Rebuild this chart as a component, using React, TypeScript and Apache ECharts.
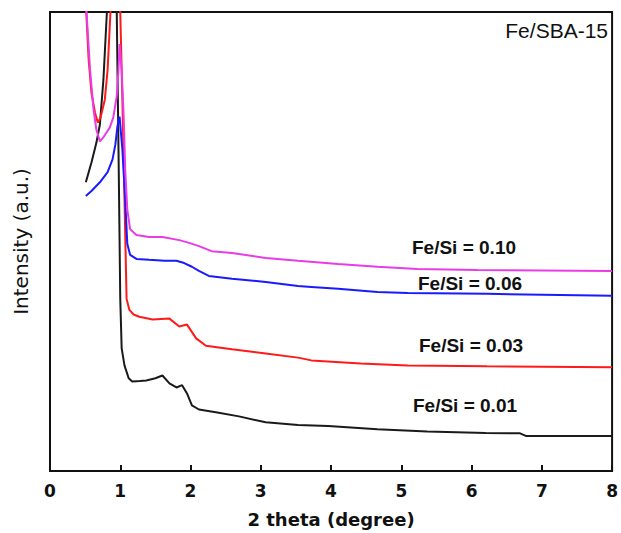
import React, { useEffect, useRef } from "react";
import * as echarts from "echarts";

// x ticks (2 theta, degree)
const xTicks = [0, 1, 2, 3, 4, 5, 6, 7, 8];

// series: [2theta, intensity (a.u., arbitrary 0-100 display scale)]
const fe001: number[][] = [
  [0.51, 62.9], [0.59, 67.2], [0.66, 71.5], [0.71, 75.5], [0.76, 85.2], [0.81, 100], [0.86, 115],
  [0.92, 120], [0.95, 100], [0.975, 70], [1.0, 37.5], [1.02, 26.7], [1.06, 23.0], [1.12, 20.2],
  [1.17, 19.5], [1.28, 19.6], [1.37, 19.7], [1.5, 20.2], [1.6, 20.8], [1.7, 19.1], [1.8, 18.2],
  [1.88, 18.7], [1.95, 16.9], [2.02, 14.3], [2.12, 13.4], [2.36, 12.8], [2.69, 11.9], [3.07, 10.6],
  [3.53, 10.0], [3.96, 9.8], [4.66, 9.1], [5.37, 8.6], [6.2, 8.3], [6.69, 8.2], [6.78, 7.6], [8.0, 7.6],
];

const fe003: number[][] = [
  [0.5, 105], [0.55, 89.6], [0.59, 82.4], [0.64, 78.1], [0.68, 75.9], [0.72, 77], [0.78, 80.9],
  [0.82, 87.4], [0.86, 99.8], [0.93, 120], [1.0, 100], [1.03, 80.9], [1.06, 59.2], [1.09, 37.5],
  [1.13, 35.1], [1.19, 34.1], [1.27, 33.6], [1.46, 33.0], [1.7, 33.2], [1.84, 31.5], [1.95, 31.9],
  [2.08, 28.9], [2.22, 27.3], [2.59, 26.5], [3.07, 25.6], [3.53, 24.7], [3.72, 24.1], [4.42, 23.4],
  [5.09, 23.0], [6.22, 22.8], [8.0, 22.6],
];

const fe006: number[][] = [
  [0.51, 59.9], [0.59, 61], [0.71, 62.9], [0.82, 65.1], [0.89, 67.9], [0.93, 71.1], [0.96, 75.1],
  [0.99, 77.2], [1.03, 70.1], [1.07, 59.2], [1.1, 49.5], [1.14, 47.1], [1.23, 46.2], [1.41, 46.0],
  [1.63, 45.8], [1.8, 45.8], [1.91, 45.3], [2.02, 44.5], [2.12, 43.6], [2.26, 42.5], [2.59, 41.9],
  [3.07, 41.2], [3.53, 40.3], [3.72, 40.1], [4.1, 39.7], [4.66, 39.0], [5.09, 38.8], [6.22, 38.6],
  [8.0, 38.2],
];

const fe010: number[][] = [
  [0.5, 105], [0.57, 87.4], [0.62, 78.7], [0.66, 74.4], [0.71, 71.8], [0.76, 72.7], [0.85, 74.8],
  [0.9, 77], [0.95, 81.6], [0.975, 87.4], [0.99, 93], [1.02, 87.4], [1.05, 76.6], [1.07, 65.7],
  [1.1, 57.0], [1.14, 52.7], [1.23, 51.4], [1.41, 51.0], [1.6, 51.0], [1.84, 50.3], [1.98, 49.7],
  [2.12, 49.0], [2.3, 47.9], [2.59, 47.5], [3.07, 46.4], [3.53, 45.8], [4.1, 45.1], [4.66, 44.5],
  [5.23, 44.0], [6.08, 43.8], [8.0, 43.6],
];

const seriesNames = ["Fe/Si = 0.01", "Fe/Si = 0.03", "Fe/Si = 0.06", "Fe/Si = 0.10"];
const seriesColors = ["#1a1a1a", "#ff1a1a", "#1a1aff", "#e83ce8"];
const seriesData = [fe001, fe003, fe006, fe010];

const App: React.FC = () => {
  const ref = useRef<HTMLDivElement>(null);

  useEffect(() => {
    if (!ref.current) return;
    const chart = echarts.init(ref.current, undefined, { renderer: "svg" });
    const labelFont = {
      fontFamily: "Liberation Sans, Arial, sans-serif",
      fontWeight: "bold" as const,
      fontSize: 19,
      fill: "#111",
    };
    chart.setOption({
      animation: false,
      backgroundColor: "#fff",
      grid: {
        left: 50,
        right: 5,
        top: 12,
        bottom: 60,
        show: true,
        borderColor: "#111",
        borderWidth: 2,
      },
      xAxis: {
        type: "value",
        min: xTicks[0],
        max: xTicks[xTicks.length - 1],
        interval: 1,
        name: "2 theta (degree)",
        nameLocation: "middle",
        nameGap: 39,
        nameTextStyle: {
          fontFamily: "DejaVu Sans, sans-serif",
          fontWeight: "bold",
          fontSize: 18,
          color: "#111",
        },
        axisLine: { show: true, lineStyle: { color: "#111", width: 2 } },
        axisTick: { show: true, inside: true, length: 6, lineStyle: { color: "#111", width: 2 } },
        axisLabel: {
          margin: 11,
          fontFamily: "DejaVu Sans, sans-serif",
          fontWeight: "bold",
          fontSize: 17,
          color: "#111",
        },
        splitLine: { show: false },
      },
      yAxis: {
        type: "value",
        min: 0,
        max: 100,
        name: "Intensity (a.u.)",
        nameLocation: "middle",
        nameGap: 19,
        nameTextStyle: {
          fontFamily: "DejaVu Sans, sans-serif",
          fontSize: 20,
          color: "#111",
        },
        axisLine: { show: true, lineStyle: { color: "#111", width: 2 } },
        axisTick: { show: false },
        axisLabel: { show: false },
        splitLine: { show: false },
      },
      series: seriesData.map((d, i) => ({
        name: seriesNames[i],
        type: "line",
        data: d,
        showSymbol: false,
        symbol: "none",
        clip: true,
        lineStyle: { color: seriesColors[i], width: 2 },
        z: 2 + i,
      })),
      graphic: [
        {
          type: "text",
          right: 13,
          top: 20,
          style: {
            text: "Fe/SBA-15",
            fontFamily: "Liberation Sans, Arial, sans-serif",
            fontSize: 21,
            fill: "#111",
          },
        },
        { type: "text", x: 412, y: 247, style: { ...labelFont, text: seriesNames[3], verticalAlign: "middle" } },
        { type: "text", x: 418, y: 283, style: { ...labelFont, text: seriesNames[2], verticalAlign: "middle" } },
        { type: "text", x: 419, y: 345, style: { ...labelFont, text: seriesNames[1], verticalAlign: "middle" } },
        { type: "text", x: 413, y: 405, style: { ...labelFont, text: seriesNames[0], verticalAlign: "middle" } },
      ],
    });
    return () => chart.dispose();
  }, []);

  return (
    <div
      ref={ref}
      style={{ position: "fixed", left: 0, top: 0, width: 621, height: 533, background: "#fff" }}
    />
  );
};

export default App;
